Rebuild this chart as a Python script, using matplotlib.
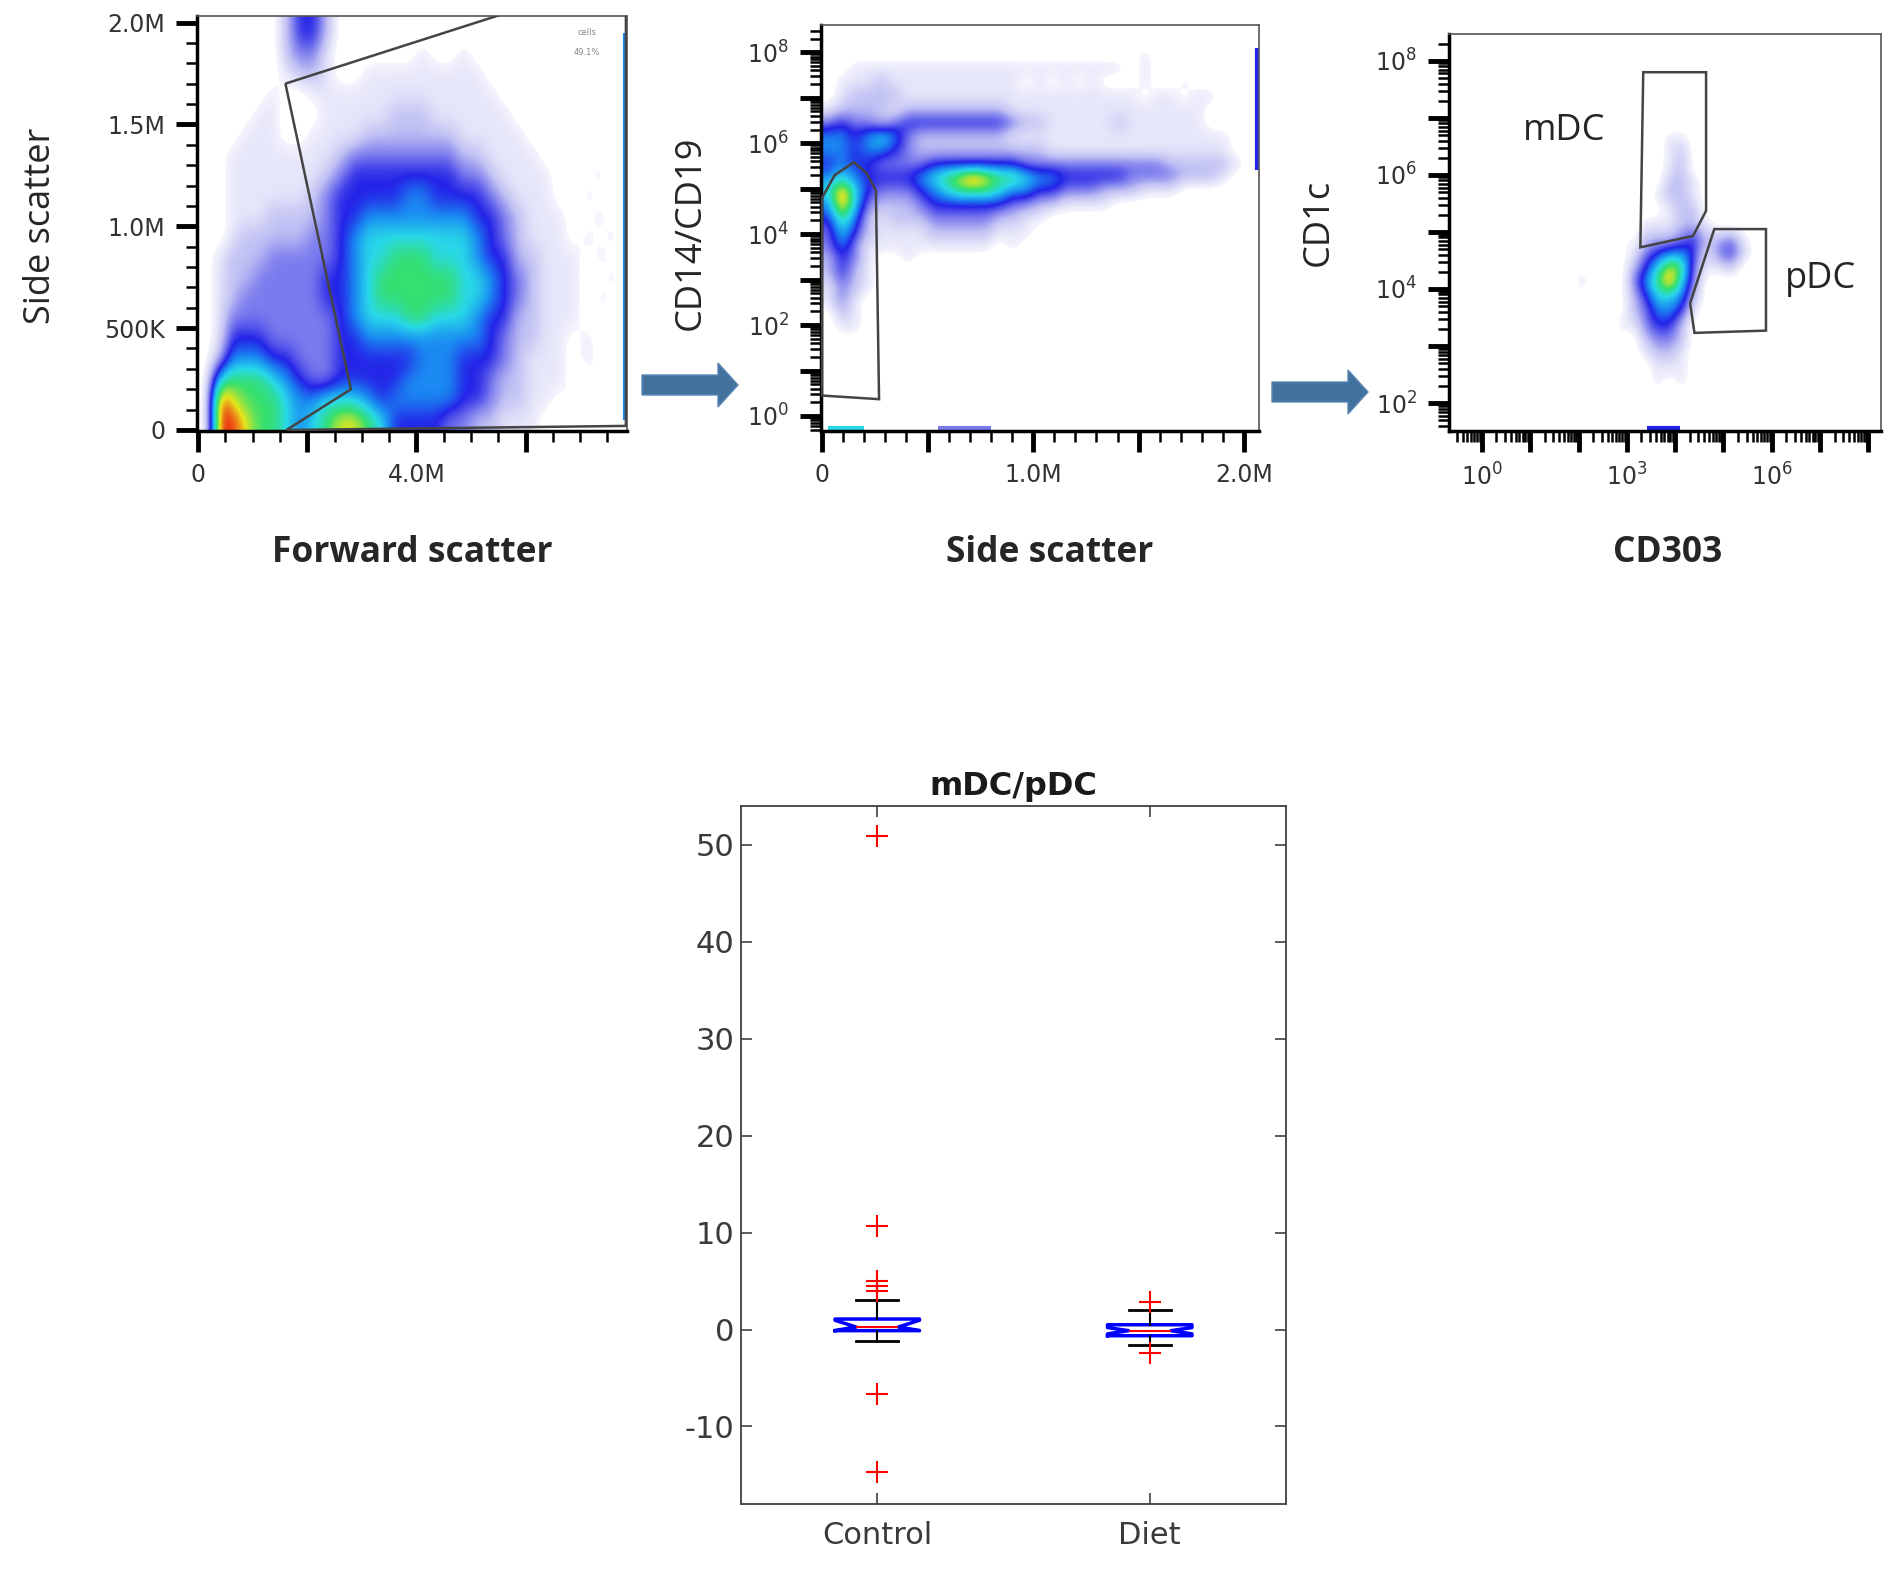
import numpy as np
import matplotlib
matplotlib.use('Agg')
import matplotlib.pyplot as plt
from matplotlib.colors import LinearSegmentedColormap, Normalize
from matplotlib.patches import Polygon
from matplotlib.ticker import FixedLocator, FixedFormatter, NullFormatter

W, H = 1900, 1569
DPI = 100
plt.rcParams['axes.unicode_minus'] = False

##-------------------------------------------------------------------------
## Data
##-------------------------------------------------------------------------
## density levels 0 (empty) .. 9 (red), rows from the top of each grid
fsc_ssc_extent = [0.0, 8.0e6, 0.0, 2.1e6]
fsc_ssc_density = [
    "00000024" "42000000" "00000000" "00000000",
    "00000024" "42000000" "00000010" "00000000",
    "00000023" "31000000" "10010000" "00000000",
    "00000012" "21001111" "11111000" "00000000",
    "00000100" "11111111" "11111100" "00001000",
    "00001100" "01111122" "21111110" "00000000",
    "00011100" "11112222" "22211111" "00010000",
    "00111111" "11233333" "33322111" "10001000",
    "00111111" "12344444" "44433211" "11000100",
    "00111111" "23444445" "54444321" "11001000",
    "00111222" "23445555" "55554432" "11100100",
    "00122222" "33456666" "66665432" "11101010",
    "01222333" "33456677" "76665442" "21110100",
    "01223333" "34456777" "77766543" "21110010",
    "01233333" "34456777" "77766543" "21110100",
    "01333333" "33456667" "76665442" "21110010",
    "01444333" "33445555" "55555432" "21101000",
    "02555443" "33444444" "55544432" "11101000",
    "06777654" "33444445" "55544322" "11100100",
    "09877765" "56665455" "55544322" "11010000",
    "09987765" "67887644" "44332211" "10000000",
]
fsc_ssc_gate = [(1.60e6, 1.70e6), (7.84e6, 2.235e6), (7.84e6, 0.02e6),
                (1.62e6, 0.0), (2.80e6, 0.20e6)]
fsc_ssc_edge_events = [(7.82e6, 7.82e6, 0.05e6, 1.95e6, 5)]
fsc_ssc_gate_name = "cells"
fsc_ssc_gate_pct = "49.1%"

ssc_cd14_extent = [0.0, 2.1875e6, 0.0, 8.4]      # y in log10 units
ssc_cd14_density = [
    "0000000000" "0000000000" "0000000000" "00000",
    "0000000000" "0000000000" "0000100001" "00000",
    "0011111111" "1111111111" "1110100000" "00000",
    "0111211111" "1111101010" "1000100100" "00000",
    "0122221111" "1111111111" "1111011011" "00000",
    "1222212222" "2222111111" "1111111110" "00000",
    "3433234444" "4444322111" "1121111110" "00000",
    "5545653222" "2222111111" "1111111111" "10000",
    "5545543222" "2222222111" "1111111111" "10000",
    "4544333344" "4444433333" "3333332222" "21000",
    "5654444567" "8987765544" "4443333222" "10000",
    "6964333456" "7776554433" "3222111000" "00000",
    "5963222344" "4444332211" "1100000000" "00000",
    "4752122233" "3332211000" "0000000000" "00000",
    "3642111122" "2221110000" "0000000000" "00000",
    "3531111111" "1110100000" "0000000000" "00000",
    "2431001000" "0000000000" "0000000000" "00000",
    "2421000000" "1000000000" "0000000000" "00000",
    "1321000000" "0000000000" "0000000000" "00000",
    "1310000000" "0000000000" "0000000000" "00000",
    "0210000100" "0000000000" "0000000000" "00000",
    "0110000000" "0000000000" "0000000000" "00000",
    "0000000000" "0000000000" "0000000000" "00000",
    "0000000000" "0000000000" "0000000000" "00000",
    "0000000000" "0000000000" "0000000000" "00000",
    "0100000000" "0000000000" "0000000000" "00000",
    "0000000000" "0000000000" "0000000000" "00000",
    "0000000000" "0000000000" "0000000000" "00000",
]
ssc_cd14_gate = [(0.0, 0.45), (0.0, 4.80), (0.06e6, 5.30), (0.15e6, 5.58),
                 (0.21e6, 5.35), (0.255e6, 4.96), (0.27e6, 0.37)]
ssc_cd14_edge_events = [(0.03e6, 0.20e6, -0.27, -0.27, 6),
                        (0.55e6, 0.80e6, -0.27, -0.27, 3),
                        (2.06e6, 2.06e6, 5.40, 8.10, 4)]

cd303_cd1c_extent = [2.0, 6.0, 2.0, 7.0]          # both in log10 units
cd303_cd1c_density = [
    "0000000000000000",
    "0000000110000000",
    "0000000120000000",
    "0000000120000000",
    "0000000221000000",
    "0000001221000000",
    "0000000122000000",
    "0000011122100000",
    "0001022234223100",
    "0000134554134200",
    "0000246873112000",
    "1000357963000000",
    "0010246652000000",
    "0000235541000000",
    "0001134420000000",
    "0000023320000000",
    "0000012210000000",
    "0000001110000000",
    "0000001010000000",
    "0000000000000000",
]
mdc_gate = [(3.34, 7.80), (4.64, 7.80), (4.64, 5.37), (4.37, 4.93), (3.28, 4.73)]
pdc_gate = [(4.81, 5.05), (5.88, 5.05), (5.88, 3.27), (4.40, 3.23), (4.31, 3.75)]
cd303_cd1c_edge_events = [(3.42, 4.10, 1.56, 1.56, 4)]

## mDC/pDC ratio box plot
groups = ["Control", "Diet"]
box_med = [0.26, -0.12]
box_q1 = [-0.12, -0.64]
box_q3 = [1.08, 0.49]
box_whislo = [-1.23, -1.64]
box_whishi = [3.08, 2.04]
box_cilo = [-0.10, -0.45]
box_cihi = [0.95, 0.20]
box_fliers = [[50.9, 10.65, 4.97, 4.45, 3.94, -6.63, -14.7],
              [2.8, -2.43]]
box_yticks = [-10, 0, 10, 20, 30, 40, 50]


##-------------------------------------------------------------------------
## helpers
##-------------------------------------------------------------------------
def px(x, y):
    return x / W, 1 - y / H


def ax_rect(l, t, r, b):
    return [l / W, 1 - b / H, (r - l) / W, (b - t) / H]


level_colors = [(0.5, '#f6f6fe'), (1, '#e6e6fa'), (2, '#c0c0f4'), (3, '#7a7aee'),
                (4, '#2424e8'), (5, '#1a8af2'), (6, '#28d8e8'), (7, '#34e070'),
                (8, '#e6e61c'), (9, '#f02a14')]
flow_cmap = LinearSegmentedColormap.from_list(
    'flow', [((l - 0.5) / 8.5, c) for l, c in level_colors])
flow_cmap.set_under((1, 1, 1, 0))
flow_norm = Normalize(0.5, 9)


def grid(rows):
    return np.array([[int(ch) for ch in r] for r in rows], dtype=float)


def draw_density(ax, rows, extent, gates, edges):
    ax.imshow(grid(rows), extent=extent, origin='upper', cmap=flow_cmap,
              norm=flow_norm, interpolation='bicubic',
              interpolation_stage='data', aspect='auto', zorder=1)
    for x0, x1, y0, y1, lev in edges:
        ax.plot([x0, x1], [y0, y1], color=flow_cmap(flow_norm(lev)), lw=3,
                solid_capstyle='butt', zorder=2)
    for g in gates:
        ax.add_patch(Polygon(g, closed=True, fill=False, ec='#444444',
                             lw=1.8, zorder=3))


def style_flow(ax):
    for side in ['top', 'right']:
        ax.spines[side].set_linewidth(1.2)
        ax.spines[side].set_color('#555555')
    for side in ['left', 'bottom']:
        ax.spines[side].set_linewidth(2.5)
        ax.spines[side].set_color('black')
    ax.tick_params(which='major', direction='out', length=15, width=3.5,
                   pad=8, labelsize=17, labelcolor='#333333')
    ax.tick_params(which='minor', direction='out', length=8, width=1.8)


def log_minor(lo, hi):
    return [n + np.log10(k) for n in range(lo, hi) for k in range(2, 10)]


def sup(n):
    return r'$\mathregular{10^{%d}}$' % n


label_font = ['Open Sans', 'DejaVu Sans']
label_color = '#262626'

fig = plt.figure(figsize=(W / DPI, H / DPI), dpi=DPI)

##-------------------------------------------------------------------------
## FSC / SSC
##-------------------------------------------------------------------------
ax1 = fig.add_axes(ax_rect(197, 16, 627, 431))
draw_density(ax1, fsc_ssc_density, fsc_ssc_extent, [fsc_ssc_gate],
             fsc_ssc_edge_events)
ax1.set_xlim(-0.02e6, 7.86e6)
ax1.set_ylim(-0.005e6, 2.032e6)
ax1.xaxis.set_major_locator(FixedLocator([0, 2e6, 4e6, 6e6]))
ax1.xaxis.set_major_formatter(FixedFormatter(['0', '', '4.0M', '']))
ax1.xaxis.set_minor_locator(FixedLocator(np.arange(0, 7.9e6, 0.5e6)))
ax1.yaxis.set_major_locator(FixedLocator([0, 0.5e6, 1e6, 1.5e6, 2e6]))
ax1.yaxis.set_major_formatter(FixedFormatter(['0', '500K', '1.0M', '1.5M', '2.0M']))
ax1.yaxis.set_minor_locator(FixedLocator(np.arange(0, 2.05e6, 0.1e6)))
ax1.xaxis.set_minor_formatter(NullFormatter())
ax1.yaxis.set_minor_formatter(NullFormatter())
style_flow(ax1)
ax1.text(7.12e6, 1.94e6, fsc_ssc_gate_name, fontsize=6, color='#888888', ha='center')
ax1.text(7.12e6, 1.84e6, fsc_ssc_gate_pct, fontsize=6, color='#888888', ha='center')

##-------------------------------------------------------------------------
## SSC / CD14-CD19
##-------------------------------------------------------------------------
ax2 = fig.add_axes(ax_rect(821, 25, 1259, 431))
draw_density(ax2, ssc_cd14_density, ssc_cd14_extent, [ssc_cd14_gate],
             ssc_cd14_edge_events)
ax2.set_xlim(-0.005e6, 2.07e6)
ax2.set_ylim(-0.33, 8.6)
ax2.xaxis.set_major_locator(FixedLocator([0, 0.5e6, 1e6, 1.5e6, 2e6]))
ax2.xaxis.set_major_formatter(FixedFormatter(['0', '', '1.0M', '', '2.0M']))
ax2.xaxis.set_minor_locator(FixedLocator(np.arange(0, 2.05e6, 0.1e6)))
ax2.yaxis.set_major_locator(FixedLocator(range(0, 9)))
ax2.yaxis.set_major_formatter(FixedFormatter([sup(n) if n % 2 == 0 else '' for n in range(0, 9)]))
ax2.yaxis.set_minor_locator(FixedLocator(log_minor(-1, 9)))
ax2.xaxis.set_minor_formatter(NullFormatter())
ax2.yaxis.set_minor_formatter(NullFormatter())
style_flow(ax2)

##-------------------------------------------------------------------------
## CD303 / CD1c
##-------------------------------------------------------------------------
ax3 = fig.add_axes(ax_rect(1449, 34, 1881, 431))
draw_density(ax3, cd303_cd1c_density, cd303_cd1c_extent, [mdc_gate, pdc_gate],
             cd303_cd1c_edge_events)
ax3.set_xlim(-0.68, 8.26)
ax3.set_ylim(1.51, 8.47)
ax3.xaxis.set_major_locator(FixedLocator(range(0, 9)))
ax3.xaxis.set_major_formatter(FixedFormatter([sup(n) if n % 3 == 0 else '' for n in range(0, 9)]))
ax3.xaxis.set_minor_locator(FixedLocator(log_minor(-1, 9)))
ax3.yaxis.set_major_locator(FixedLocator(range(2, 9)))
ax3.yaxis.set_major_formatter(FixedFormatter([sup(n) if n % 2 == 0 else '' for n in range(2, 9)]))
ax3.yaxis.set_minor_locator(FixedLocator(log_minor(1, 9)))
ax3.xaxis.set_minor_formatter(NullFormatter())
ax3.yaxis.set_minor_formatter(NullFormatter())
style_flow(ax3)

## axis titles
fig.text(*px(41, 226), 'Side scatter', rotation=90, ha='center', va='center',
         fontsize=26, family=label_font, color=label_color)
fig.text(*px(412, 553), 'Forward scatter', ha='center', va='center',
         fontsize=25.5, fontweight='bold', family=label_font, color=label_color)
fig.text(*px(691, 233), 'CD14/CD19', rotation=90, ha='center', va='center',
         fontsize=26, family=label_font, color=label_color)
fig.text(*px(1050, 553), 'Side scatter', ha='center', va='center',
         fontsize=25.5, fontweight='bold', family=label_font, color=label_color)
fig.text(*px(1319, 222), 'CD1c', rotation=90, ha='center', va='center',
         fontsize=26, family=label_font, color=label_color)
fig.text(*px(1668, 553), 'CD303', ha='center', va='center',
         fontsize=25.5, fontweight='bold', family=label_font, color=label_color)
fig.text(*px(1564, 131), 'mDC', ha='center', va='center',
         fontsize=26, family=label_font, color=label_color)
fig.text(*px(1821, 279), 'pDC', ha='center', va='center',
         fontsize=26, family=label_font, color=label_color)

## arrows between the gating steps
for x0, yc in [(642, 385), (1272, 392)]:
    L, hl, sh, hh = 96, 20, 10, 22
    pts = [(x0, yc - sh), (x0 + L - hl, yc - sh), (x0 + L - hl, yc - hh),
           (x0 + L, yc), (x0 + L - hl, yc + hh), (x0 + L - hl, yc + sh),
           (x0, yc + sh)]
    fig.patches.append(Polygon([px(x, y) for x, y in pts], closed=True,
                               transform=fig.transFigure, fc='#41719c',
                               ec='#5b87b5', lw=1))

##-------------------------------------------------------------------------
## mDC/pDC box plot
##-------------------------------------------------------------------------
ax4 = fig.add_axes(ax_rect(741, 806, 1286, 1504))
stats = []
for i, name in enumerate(groups):
    stats.append(dict(label=name, med=box_med[i], q1=box_q1[i], q3=box_q3[i],
                      whislo=box_whislo[i], whishi=box_whishi[i],
                      cilo=box_cilo[i], cihi=box_cihi[i], fliers=box_fliers[i]))
ax4.bxp(stats, positions=[1, 2], widths=0.31, capwidths=0.155,
        shownotches=True, showfliers=True,
        boxprops=dict(color='blue', lw=2.5),
        medianprops=dict(color='red', lw=1.5),
        whiskerprops=dict(color='black', lw=1.5, linestyle='-'),
        capprops=dict(color='black', lw=2),
        flierprops=dict(marker='+', markeredgecolor='red', markersize=16,
                        markeredgewidth=1.5, linestyle='none'))
ax4.set_xlim(0.5, 2.5)
ax4.set_ylim(-18, 54)
ax4.set_xticks([1, 2])
ax4.set_xticklabels(groups)
ax4.set_yticks(box_yticks)
for s in ax4.spines.values():
    s.set_color('#404040')
    s.set_linewidth(1.3)
ax4.tick_params(direction='in', length=8, width=1.2, top=True, right=True,
                colors='#404040', labelsize=22, labelcolor='#3a3a3a')
ax4.tick_params(axis='x', pad=12)
ax4.tick_params(axis='y', pad=5)
ax4.set_title('mDC/pDC', fontsize=23, fontweight='bold', pad=8, color='#1a1a1a')

plt.savefig('out.png', dpi=DPI)
